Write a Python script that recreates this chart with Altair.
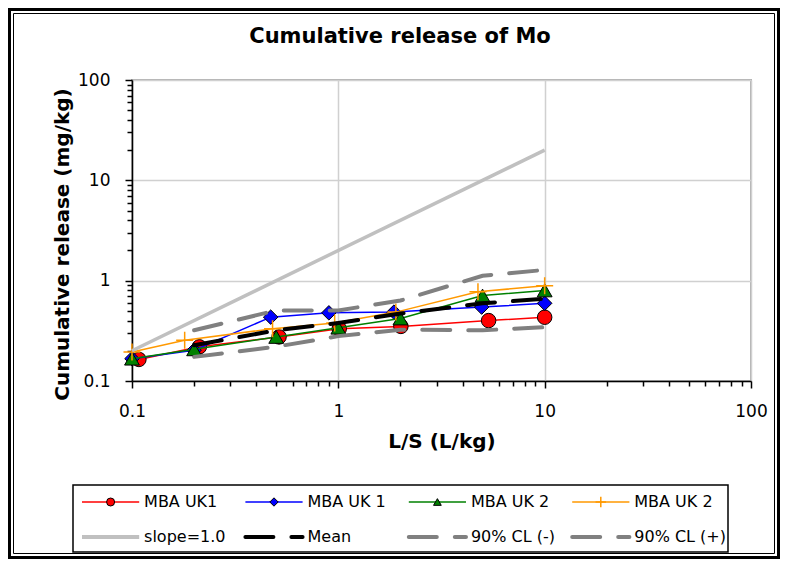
import altair as alt
import pandas as pd

TITLE = "Cumulative release of Mo"
X_TITLE = "L/S (L/kg)"
Y_TITLE = "Cumulative release (mg/kg)"

# --- series data ---
uk1_x = [0.108, 0.212, 0.516, 1.01, 2.01, 5.35, 10.0]
uk1_y = [0.164, 0.219, 0.275, 0.332, 0.350, 0.400, 0.432]

uk1b_x = [0.100, 0.200, 0.470, 0.900, 1.86, 4.95, 10.0]
uk1b_y = [0.167, 0.203, 0.433, 0.478, 0.486, 0.545, 0.595]

uk2_x = [0.100, 0.200, 0.500, 1.00, 2.00, 5.00, 10.0]
uk2_y = [0.167, 0.207, 0.275, 0.340, 0.420, 0.710, 0.800]

uk2b_x = [0.100, 0.180, 0.480, 0.960, 1.90, 4.75, 10.0]
uk2b_y = [0.195, 0.255, 0.332, 0.378, 0.486, 0.775, 0.890]

slope_x = [0.1, 10.0]
slope_y = [0.2, 20.0]

stat_x = [0.2, 0.5, 1.0, 2.0, 5.0, 10.0]
mean_y = [0.227, 0.320, 0.378, 0.470, 0.595, 0.660]
cl_lo_y = [0.174, 0.220, 0.280, 0.325, 0.320, 0.344]
cl_hi_y = [0.320, 0.505, 0.505, 0.634, 1.120, 1.280]

legend_labels = ["MBA UK1", "MBA UK 1", "MBA UK 2", "MBA UK 2",
                 "slope=1.0", "Mean", "90% CL (-)", "90% CL (+)"]
legend_col = [0, 1, 2, 3, 0, 1, 2, 3]
legend_row = [0, 0, 0, 0, 1, 1, 1, 1]

tick_values = [0.1, 0.2, 0.3, 0.4, 0.5, 0.6, 0.7, 0.8, 0.9,
               1, 2, 3, 4, 5, 6, 7, 8, 9,
               10, 20, 30, 40, 50, 60, 70, 80, 90, 100]

# --- layout ---
W, H = 619, 301
PAD = {"left": 124, "top": 72, "right": 29, "bottom": 178}
FONT = "DejaVu Sans"

MAJOR = "indexof([0.1, 1, 10, 100], datum.value) >= 0"

def make_axis(title, is_x):
    common = dict(
        values=tick_values,
        format="~g",
        labelExpr=f"{MAJOR} ? datum.label : ''",
        title=title,
        gridOpacity={"condition": {"test": MAJOR, "value": 1}, "value": 0},
        tickSize={"condition": {"test": MAJOR, "value": 7}, "value": 5},
        labelOverlap=False,
        labelFlush=False,
        titleBaseline="middle",
    )
    if is_x:
        return alt.Axis(labelPadding=15, titleY=60, **common)
    return alt.Axis(labelPadding=15, titleX=-70, titleY=164, **common)

xscale = alt.Scale(type="log", domain=[0.1, 100], nice=False)
yscale = alt.Scale(type="log", domain=[0.1, 100], nice=False)
xenc = alt.X("x:Q", scale=xscale, axis=make_axis(X_TITLE, True))
yenc = alt.Y("y:Q", scale=yscale, axis=make_axis(Y_TITLE, False))

def df_of(xs, ys):
    return pd.DataFrame({"x": xs, "y": ys})

PLUS = "M-1,0L1,0M0,-1L0,1"

layers = []
for xs, ys, color, shape, size in [
    (uk1_x, uk1_y, "#FF0000", "circle", 210),
    (uk1b_x, uk1b_y, "#0000FF", "diamond", 210),
    (uk2_x, uk2_y, "#008000", "triangle-up", 220),
]:
    d = df_of(xs, ys)
    layers.append(alt.Chart(d).mark_line(color=color, strokeWidth=1.5).encode(x=xenc, y=yenc))
    layers.append(alt.Chart(d).mark_point(shape=shape, size=size, filled=True, fill=color,
                                          stroke="black", strokeWidth=1, opacity=1)
                  .encode(x=xenc, y=yenc))
d = df_of(uk2b_x, uk2b_y)
layers.append(alt.Chart(d).mark_line(color="#FF9900", strokeWidth=1.5).encode(x=xenc, y=yenc))
layers.append(alt.Chart(d).mark_point(shape=PLUS, size=290, filled=False, stroke="#FF9900",
                                      strokeWidth=1.5, opacity=1).encode(x=xenc, y=yenc))

layers.append(alt.Chart(df_of(slope_x, slope_y)).mark_line(color="#C0C0C0", strokeWidth=3.5)
              .encode(x=xenc, y=yenc))
DASH = [28, 18]
for ys, color in [(mean_y, "black"), (cl_lo_y, "#808080"), (cl_hi_y, "#808080")]:
    layers.append(alt.Chart(df_of(stat_x, ys)).mark_line(color=color, strokeWidth=4,
                                                         strokeDash=DASH, strokeCap="round")
                  .encode(x=xenc, y=yenc))

plot = alt.layer(*layers)

# --- legend (positions via its own linear scales) ---
LX0, STEP = -50, 163.4
leg_df = pd.DataFrame({"key": list(range(8)), "label": legend_labels,
                       "col": legend_col, "row": legend_row})
lsc_x = alt.Scale(domain=[0, 3], range=[LX0, LX0 + 3 * STEP], nice=False, zero=False)
lsc_y = alt.Scale(domain=[0, 1], range=[422, 457], nice=False, zero=False)
ly = alt.Y("row:Q", scale=lsc_y, axis=None)
lbase = alt.Chart(leg_df).transform_calculate(
    c_end="datum.col + 0.35", c_mid="datum.col + 0.175", c_txt="datum.col + 0.38")

leg_layers = []
box_df = pd.DataFrame({"t": [TITLE]})
# outer double frame
leg_layers.append(alt.Chart(box_df).mark_rect(fill=None, stroke="black", strokeWidth=3)
                  .encode(x=alt.value(-122.5), x2=alt.value(646.5), y=alt.value(-70.5), y2=alt.value(477.5)))
leg_layers.append(alt.Chart(box_df).mark_rect(fill=None, stroke="black", strokeWidth=1)
                  .encode(x=alt.value(-118.5), x2=alt.value(642.5), y=alt.value(-66.5), y2=alt.value(473.5)))
# title
leg_layers.append(alt.Chart(box_df).mark_text(font=FONT, fontSize=21, fontWeight="bold",
                                              align="center", baseline="middle", color="black")
                  .encode(x=alt.value(268), y=alt.value(-43), text="t:N"))
# legend box
leg_layers.append(alt.Chart(box_df).mark_rect(fill="white", stroke="black", strokeWidth=1.5)
                  .encode(x=alt.value(-59), x2=alt.value(596), y=alt.value(405), y2=alt.value(472)))

styles = [
    dict(color="#FF0000", strokeWidth=1.5),
    dict(color="#0000FF", strokeWidth=1.5),
    dict(color="#008000", strokeWidth=1.5),
    dict(color="#FF9900", strokeWidth=1.5),
    dict(color="#C0C0C0", strokeWidth=4),
    dict(color="black", strokeWidth=4, strokeDash=DASH, strokeCap="round"),
    dict(color="#808080", strokeWidth=4, strokeDash=DASH, strokeCap="round"),
    dict(color="#808080", strokeWidth=4, strokeDash=DASH, strokeCap="round"),
]
for k, st in enumerate(styles):
    leg_layers.append(lbase.transform_filter(f"datum.key == {k}").mark_rule(**st)
                      .encode(x=alt.X("col:Q", scale=lsc_x, axis=None), x2="c_end:Q", y=ly))
markers = [
    dict(shape="circle", size=64, filled=True, fill="#FF0000", stroke="black", strokeWidth=1),
    dict(shape="diamond", size=70, filled=True, fill="#0000FF", stroke="black", strokeWidth=1),
    dict(shape="triangle-up", size=60, filled=True, fill="#008000", stroke="black", strokeWidth=1),
    dict(shape=PLUS, size=110, filled=False, stroke="#FF9900", strokeWidth=1.5),
]
for k, mk in enumerate(markers):
    leg_layers.append(lbase.transform_filter(f"datum.key == {k}").mark_point(opacity=1, **mk)
                      .encode(x=alt.X("c_mid:Q", scale=lsc_x, axis=None), y=ly))
leg_layers.append(lbase.mark_text(font=FONT, fontSize=16, align="left", baseline="middle", color="black")
                  .encode(x=alt.X("c_txt:Q", scale=lsc_x, axis=None), y=ly, text="label:N"))

legend = alt.layer(*leg_layers)

chart = (
    alt.layer(plot, legend)
    .resolve_scale(x="independent", y="independent")
    .properties(width=W, height=H, padding=PAD,
                autosize=alt.AutoSizeParams(type="none"), background="white")
    .configure_view(stroke="#B0B0B0", strokeWidth=2)
    .configure_axis(
        domainColor="black", domainWidth=1.5, tickColor="black", tickWidth=1.5,
        labelFont=FONT, labelFontSize=17, labelColor="black",
        titleFont=FONT, titleFontSize=20, titleFontWeight="bold", titleColor="black",
        gridColor="#D0D0D0", gridWidth=1.5,
    )
)

chart.save("out.html", embed_options={"renderer": "svg", "actions": False})
